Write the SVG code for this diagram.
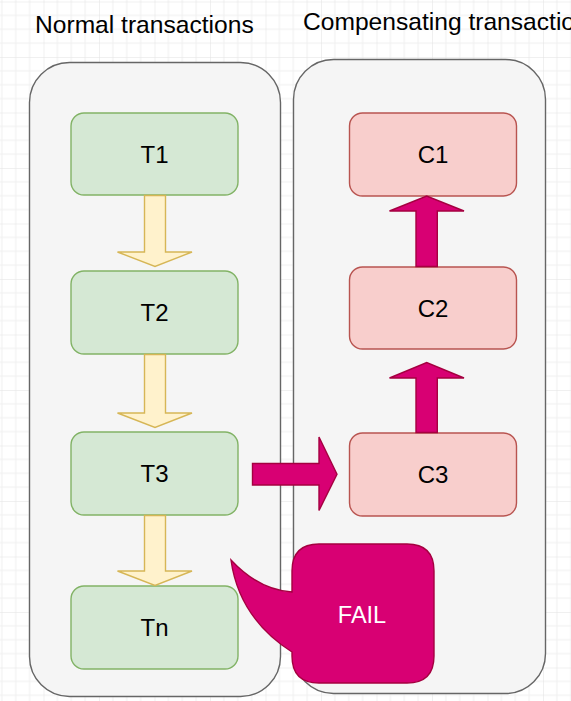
<svg xmlns="http://www.w3.org/2000/svg" width="571" height="701" viewBox="0 0 571 701">
<defs>
<pattern id="grid" patternUnits="userSpaceOnUse" x="43.5" y="1.5" width="55.5" height="55.5">
<path d="M13.875 0V55.5M27.75 0V55.5M41.625 0V55.5M0 13.875H55.5M0 27.75H55.5M0 41.625H55.5" stroke="#f0f0f0" stroke-width="1" fill="none"/>
<path d="M0 0V55.5M0 0H55.5" stroke="#e2e2e2" stroke-width="1" fill="none"/>
</pattern>
<style>
.title{font-family:"Liberation Sans",Arial,sans-serif;font-size:24.6px;fill:#000}
.lbl{font-family:"Liberation Sans",Arial,sans-serif;font-size:24px;fill:#000;text-anchor:middle}
.cont{fill:#f5f5f5;stroke:#666666;stroke-width:1.4}
.tn{fill:#d5e8d4;stroke:#82b366;stroke-width:1.4}
.cn{fill:#f8cecc;stroke:#b85450;stroke-width:1.4}
.ya{fill:#fff2cc;stroke:#d6b656;stroke-width:1.4}
.ma{fill:#d80073;stroke:#a50040;stroke-width:1.4}
.fail{font-family:"Liberation Sans",Arial,sans-serif;font-size:23.5px;fill:#ffffff;text-anchor:middle}
</style>
</defs>
<rect width="571" height="701" fill="#ffffff"/>
<rect width="571" height="701" fill="url(#grid)"/>

<text class="title" x="35" y="33">Normal transactions</text>
<text class="title" x="303" y="30">Compensating transactions</text>

<g id="container-normal"><rect class="cont" x="29.5" y="62.5" width="251" height="634" rx="40" ry="40"/></g>
<g id="container-comp"><rect class="cont" x="293.5" y="59.5" width="252" height="634" rx="40" ry="40"/></g>

<g id="T1"><rect class="tn" x="71" y="113" width="167" height="82" rx="13"/><text class="lbl" x="154.5" y="162.6">T1</text></g>
<g id="T2"><rect class="tn" x="71" y="271" width="167" height="83" rx="13"/><text class="lbl" x="154.5" y="321">T2</text></g>
<g id="T3"><rect class="tn" x="71" y="432" width="167" height="83" rx="13"/><text class="lbl" x="154.5" y="482">T3</text></g>
<g id="Tn"><rect class="tn" x="71" y="586" width="167" height="83" rx="13"/><text class="lbl" x="154.5" y="636">Tn</text></g>

<g id="C1"><rect class="cn" x="349.5" y="113" width="167" height="83" rx="13"/><text class="lbl" x="433" y="163">C1</text></g>
<g id="C2"><rect class="cn" x="349.5" y="267" width="167" height="82" rx="13"/><text class="lbl" x="433" y="316.6">C2</text></g>
<g id="C3"><rect class="cn" x="349.5" y="433" width="167" height="83" rx="13"/><text class="lbl" x="433" y="483">C3</text></g>

<g id="connectors">
<path class="ya" d="M144.5 195.5H165.5V252H192L155 266.5L117.5 252H144.5Z"/>
<path class="ya" d="M144.5 354.5H165.5V413H192L155 427.5L117.5 413H144.5Z"/>
<path class="ya" d="M144.5 515.5H165.5V571H192L155 585.5L117.5 571H144.5Z"/>
<path class="ma" d="M416 266.5V211H389.5L426.7 196L464 211H437.3V266.5Z"/>
<path class="ma" d="M416 432.5V378H389.5L426.7 362.5L464 378H437.3V432.5Z"/>
<path class="ma" d="M252.5 463.5H319V437L337 474.3L319 510.5V485H252.5Z"/>
</g>

<g id="FAIL">
<path class="ma" d="M319 544H407Q434 544 434 571V656Q434 683 407 683H319Q292 683 292 656V652Q239 618 231 560Q259 590 292 592V571Q292 544 319 544Z"/>
<text class="fail" x="362" y="622.5">FAIL</text>
</g>
</svg>
